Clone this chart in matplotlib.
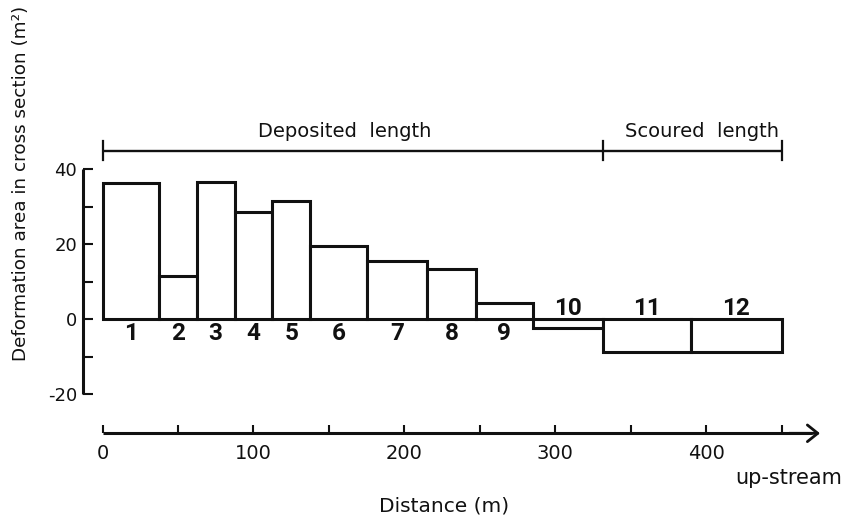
import matplotlib
matplotlib.use("Agg")
import matplotlib.pyplot as plt
import numpy as np

plt.rcParams["axes.unicode_minus"] = False

# ---------------- data ----------------
section_bounds_m = [0, 37.5, 62.5, 87.5, 112.5, 137.5, 175, 215, 247.5, 285, 332, 390, 450]
deformation_area = [36.3, 11.4, 36.5, 28.5, 31.5, 19.4, 15.5, 13.4, 4.3, -2.5, -8.7, -8.7]
section_labels = ["1", "2", "3", "4", "5", "6", "7", "8", "9", "10", "11", "12"]
x_major_ticks = [0, 100, 200, 300, 400]
x_minor_ticks = [50, 150, 250, 350, 450]
y_major_ticks = [-20, 0, 20, 40]
y_minor_ticks = [-10, 10, 30]
reach_bounds_m = [0, 332, 450]
reach_labels = ["Deposited  length", "Scoured  length"]

# ---------------- figure ----------------
W, H = 849, 517
fig = plt.figure(figsize=(W / 100, H / 100), dpi=100)
ax = fig.add_axes([0, 0, 1, 1])
ax.patch.set_alpha(0)

# pixel mapping of the reference: x=0 m at 102.5 px, 1.509 px/m ; y=0 at 319 px, 3.75 px/unit
x0, sx = 102.5, 1.509
y0, sy = 319.0, 3.75
ax.set_xlim(-x0 / sx, (W - x0) / sx)
ax.set_ylim(-(H - y0) / sy, y0 / sy)

ink = "#111111"
lw = 2.2

bounds = np.array(section_bounds_m)
lefts = bounds[:-1]
widths = np.diff(bounds)
centers = lefts + widths / 2
ax.bar(lefts, deformation_area, width=widths, align="edge", color="white",
       edgecolor=ink, linewidth=lw, zorder=2)

for c, h, lab in zip(centers, deformation_area, section_labels):
    yy = -5.7 if h > 0 else 1.1
    ax.text(c, yy, lab, ha="center", va="baseline", fontsize=17.5,
            fontweight="bold", family="Roboto", color=ink, zorder=3)

# reach bracket on top
yb = (y0 - 150.7) / sy
tick_h = 2.6
ax.plot([reach_bounds_m[0], reach_bounds_m[-1]], [yb, yb], color=ink, lw=1.7,
        solid_capstyle="butt", clip_on=False)
for b in reach_bounds_m:
    ax.plot([b, b], [yb - tick_h, yb + tick_h], color=ink, lw=1.6, clip_on=False)
label_x_px = [345, 702]
for lab, px in zip(reach_labels, label_x_px):
    ax.text((px - x0) / sx, (y0 - 137) / sy, lab, ha="center", va="baseline",
            fontsize=14, color=ink, family="DejaVu Sans")

# axes / spines
for s in ["top", "right"]:
    ax.spines[s].set_visible(False)
ax.spines["left"].set_position(("data", (82.5 - x0) / sx))
ax.spines["left"].set_bounds(y_major_ticks[0], y_major_ticks[-1])
ax.spines["bottom"].set_position(("data", (y0 - 433.3) / sy))
ax.spines["bottom"].set_bounds(0, 470)
for s in ["left", "bottom"]:
    ax.spines[s].set_linewidth(lw)
    ax.spines[s].set_color(ink)
    ax.spines[s].set_capstyle("butt")

ax.set_xticks(x_major_ticks)
ax.set_xticks(x_minor_ticks, minor=True)
ax.set_yticks(y_major_ticks)
ax.set_yticks(y_minor_ticks, minor=True)
ax.tick_params(axis="x", which="both", direction="in", length=6, width=1.5,
               color=ink, labelcolor=ink, pad=8, labelsize=14)
ax.tick_params(axis="y", which="both", direction="in", length=7, width=1.5,
               color=ink, labelcolor=ink, pad=4, labelsize=13)

# arrow head on distance axis
yax = (y0 - 433.3) / sy
ax.annotate("", xy=((820 - x0) / sx, yax), xytext=(455, yax),
            arrowprops=dict(arrowstyle="->,head_length=0.75,head_width=0.6",
                            lw=2, color=ink, shrinkA=0, shrinkB=0),
            annotation_clip=False)

# labels
fig.text(735 / W, 1 - 484 / H, "up-stream", ha="left", va="baseline",
         fontsize=15, color=ink)
fig.text(444 / W, 1 - 512 / H, "Distance (m)", ha="center", va="baseline",
         fontsize=14.5, color=ink)
fig.text(21 / W, 1 - 183 / H, "Deformation area in cross section (m²)",
         rotation=90, ha="center", va="center", fontsize=13.2, color=ink)

fig.savefig("out.png", dpi=100, facecolor="white")
